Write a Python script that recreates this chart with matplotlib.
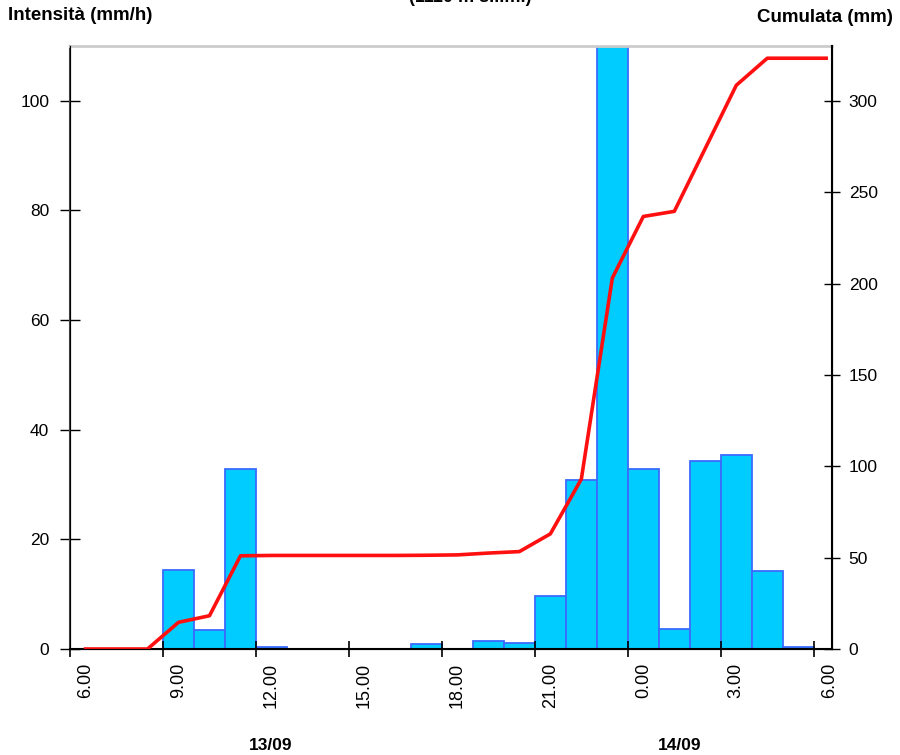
import numpy as np
import matplotlib
matplotlib.use('Agg')
import matplotlib.pyplot as plt

plt.rcParams['font.family'] = ['Liberation Sans', 'DejaVu Sans']

# hourly intensity (mm/h), bar starts at hour (hours counted from 00:00 of 13/09)
bar_hours = [9, 10, 11, 12, 17, 19, 20, 21, 22, 23, 24, 25, 26, 27, 28, 29]
intensity = [14.4, 3.4, 32.8, 0.3, 1.0, 1.4, 1.1, 9.7, 30.8, 111, 32.8, 3.6, 34.3, 35.3, 14.3, 0.3]

# cumulated rainfall (mm), plotted at mid-hour
cum_times = [6.5, 7.5, 8.5, 9.5, 10.5, 11.5, 12.5, 13.5, 14.5, 15.5, 16.5, 17.5, 18.5,
             19.5, 20.5, 21.5, 22.5, 23.5, 24.5, 25.5, 26.5, 27.5, 28.5, 29.5, 30.4]
cumulata = [0, 0, 0, 14.6, 18.2, 51, 51.2, 51.2, 51.2, 51.2, 51.2, 51.3, 51.5,
            52.5, 53.3, 63, 93, 203, 236.7, 239.5, 274, 308.5, 323.3, 323.3, 323.3]

tick_hours = [6, 9, 12, 15, 18, 21, 24, 27, 30]
tick_labels = ['6.00', '9.00', '12.00', '15.00', '18.00', '21.00', '0.00', '3.00', '6.00']
days = ['13/09', '14/09']

fig = plt.figure(figsize=(9, 7.55), dpi=100)
ax = fig.add_axes([0.0778, 0.1404, 0.8467, 0.7987])

ax.bar(bar_hours, intensity, width=1, align='edge', color='#00CCFF',
       edgecolor='#3A6BFF', linewidth=1.3)
ax.set_xlim(6, 30.59)
ax.set_ylim(0, 110)
ax.set_yticks(np.arange(0, 101, 20))
ax.tick_params(axis='y', direction='inout', length=14, width=1, labelsize=12.5, pad=8)

# major ticks without labels, labels shifted half an hour to the right
ax.set_xticks(tick_hours)
ax.set_xticklabels([])
ax.set_xticks([h + 0.5 for h in tick_hours], minor=True)
ax.set_xticklabels(tick_labels, minor=True, rotation=90, fontsize=13)
ax.tick_params(axis='x', which='major', direction='inout', length=12, width=1.2)
ax.tick_params(axis='x', which='minor', length=0, pad=10)

ax.spines['top'].set_color('#cccccc')
ax.spines['top'].set_linewidth(2)
ax.spines['left'].set_color('#444444')
ax.spines['left'].set_linewidth(1.5)
ax.spines['bottom'].set_linewidth(1.5)

ax2 = ax.twinx()
ax2.plot(cum_times, cumulata, color='#FF1010', linewidth=2.6)
ax2.set_ylim(0, 330)
ax2.set_yticks(np.arange(0, 301, 50))
ax2.tick_params(axis='y', direction='inout', length=12, width=1, labelsize=12.5, pad=6)
ax2.spines['top'].set_visible(False)
ax2.spines['right'].set_linewidth(1.5)

fig.text(0.009, 0.98, 'Intensità (mm/h)', fontsize=13.5, fontweight='bold', ha='left', va='center')
fig.text(0.992, 0.977, 'Cumulata (mm)', fontsize=13.5, fontweight='bold', ha='right', va='center')
fig.text(0.522, 1.003, '(1110 m s.l.m.)', fontsize=13, fontweight='bold', ha='center', va='center')

fig.text(271 / 900, 0.013, days[0], fontsize=12.5, fontweight='bold', ha='center', va='center')
fig.text(680 / 900, 0.013, days[1], fontsize=12.5, fontweight='bold', ha='center', va='center')

fig.savefig('out.png', dpi=100)
